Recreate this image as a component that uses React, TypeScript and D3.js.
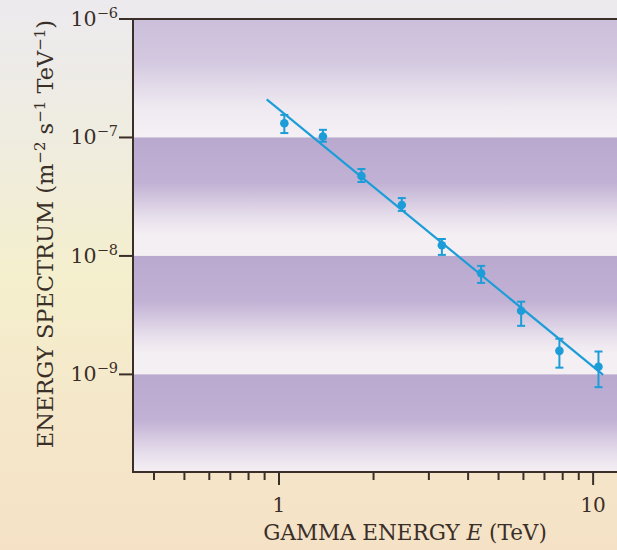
import React from "react";
import * as d3 from "d3";

// ---- data ----
const energyTeV = [1.04, 1.38, 1.83, 2.46, 3.3, 4.4, 5.9, 7.81, 10.4];
const flux = [1.32e-7, 1.02e-7, 4.73e-8, 2.69e-8, 1.23e-8, 7.14e-9, 3.44e-9, 1.58e-9, 1.16e-9];
const fluxHigh = [1.55e-7, 1.16e-7, 5.42e-8, 3.08e-8, 1.39e-8, 8.24e-9, 4.11e-9, 2.0e-9, 1.56e-9];
const fluxLow = [1.09e-7, 9.2e-8, 4.21e-8, 2.4e-8, 1.02e-8, 5.92e-9, 2.57e-9, 1.14e-9, 7.8e-10];
const fitEnergy = [0.914, 10.76];
const fitFlux = [2.1e-7, 9.9e-10];
const xMajorTicks = [1, 10];
const xMinorTicks = [0.4, 0.5, 0.6, 0.7, 0.8, 0.9, 2, 3, 4, 5, 6, 7, 8, 9];
const yTickExponents = [-6, -7, -8, -9];
const bandDecades = [-6, -7, -8, -9];

const W = 617;
const H = 550;
const L = 133;
const R = 618;
const T = 19;
const B = 472;

const FONT = "'DejaVu Serif', 'Liberation Serif', serif";
const INK = "#3a2f28";
const BLUE = "#1c9dd8";

export default function App() {
  const x = d3.scaleLog().domain([0.343, 12]).range([L, R]);
  const y = d3.scaleLog().domain([1e-6, 1.5e-10]).range([T, B]);
  const line = d3
    .line<number>()
    .x((_, i) => x(fitEnergy[i]))
    .y((d) => y(d));

  return (
    <svg
      width={W}
      height={H}
      style={{ position: "absolute", left: 0, top: 0 }}
      fontFamily={FONT}
    >
      <defs>
        <linearGradient id="paper" x1="0" y1="0" x2="0" y2="1">
          <stop offset="0" stopColor="#eceaee" />
          <stop offset="0.25" stopColor="#efece0" />
          <stop offset="0.5" stopColor="#f4efcd" />
          <stop offset="0.8" stopColor="#f5e6c9" />
          <stop offset="1" stopColor="#f5e2c6" />
        </linearGradient>
        <linearGradient id="band" x1="0" y1="0" x2="0" y2="1">
          <stop offset="0" stopColor="#baa9cf" />
          <stop offset="0.38" stopColor="#c1b1d4" />
          <stop offset="0.68" stopColor="#e8e0ec" />
          <stop offset="0.82" stopColor="#f4eff3" />
          <stop offset="1" stopColor="#f4eff3" />
        </linearGradient>
        <linearGradient id="bandTop" x1="0" y1="0" x2="0" y2="1">
          <stop offset="0" stopColor="#cbbfdb" />
          <stop offset="0.35" stopColor="#d3c8df" />
          <stop offset="0.75" stopColor="#efeaf1" />
          <stop offset="1" stopColor="#f4f0f4" />
        </linearGradient>
        <clipPath id="plotClip">
          <rect x={L} y={T} width={R - L} height={B - T} />
        </clipPath>
      </defs>

      <rect x={0} y={0} width={W} height={H} fill="url(#paper)" />

      <g clipPath="url(#plotClip)">
        <rect x={L} y={T} width={R - L} height={B - T} fill="#f4eff3" />
        {bandDecades.map((e) => {
          const y0 = y(Math.pow(10, e));
          const y1 = y(Math.pow(10, e - 1));
          return (
            <rect
              key={e}
              x={L}
              y={y0}
              width={R - L}
              height={y1 - y0}
              fill={e === -6 ? "url(#bandTop)" : "url(#band)"}
            />
          );
        })}
        <path
          d={line(fitFlux) || ""}
          fill="none"
          stroke={BLUE}
          strokeWidth={2.2}
        />
        {energyTeV.map((e, i) => {
          const cx = x(e);
          const yh = y(fluxHigh[i]);
          const yl = y(fluxLow[i]);
          return (
            <g key={i} stroke={BLUE} strokeWidth={2}>
              <line x1={cx} x2={cx} y1={yh} y2={yl} />
              <line x1={cx - 4} x2={cx + 4} y1={yh} y2={yh} />
              <line x1={cx - 4} x2={cx + 4} y1={yl} y2={yl} />
              <circle cx={cx} cy={y(flux[i])} r={4.3} fill={BLUE} stroke="none" />
            </g>
          );
        })}
      </g>

      {/* frame */}
      <path
        d={`M${R + 5},${T} H${L} V${B} H${R + 5}`}
        fill="none"
        stroke={INK}
        strokeWidth={2}
      />

      {/* x ticks */}
      {xMinorTicks.map((t) => (
        <line key={"mn" + t} x1={x(t)} x2={x(t)} y1={B} y2={B + 8} stroke={INK} strokeWidth={2} />
      ))}
      {xMajorTicks.map((t) => (
        <g key={"mj" + t}>
          <line x1={x(t)} x2={x(t)} y1={B} y2={B + 13} stroke={INK} strokeWidth={2} />
          <text x={x(t)} y={512} textAnchor="middle" fontSize={20} fill={INK}>
            {t}
          </text>
        </g>
      ))}

      {/* y ticks */}
      {yTickExponents.map((e) => {
        const ty = y(Math.pow(10, e));
        return (
          <g key={e}>
            <line x1={L - 14} x2={L} y1={ty} y2={ty} stroke={INK} strokeWidth={2} />
            <text x={118} y={ty + 7} textAnchor="end" fontSize={20.5} fill={INK}>
              10
              <tspan fontSize={14.5} dy={-8}>
                {"\u2212" + Math.abs(e)}
              </tspan>
            </text>
          </g>
        );
      })}

      {/* axis titles */}
      <text x={405} y={540} textAnchor="middle" fontSize={21.5} fill={INK}>
        GAMMA ENERGY <tspan fontStyle="italic">E</tspan> (TeV)
      </text>
      <text
        transform={`translate(53,234) rotate(-90)`}
        textAnchor="middle"
        fontSize={22.5}
        fill={INK}
      >
        ENERGY SPECTRUM (m
        <tspan fontSize={15} dy={-8}>{"\u22122"}</tspan>
        <tspan dy={8}> s</tspan>
        <tspan fontSize={15} dy={-8}>{"\u22121"}</tspan>
        <tspan dy={8}> TeV</tspan>
        <tspan fontSize={15} dy={-8}>{"\u22121"}</tspan>
        <tspan dy={8}>)</tspan>
      </text>
    </svg>
  );
}
